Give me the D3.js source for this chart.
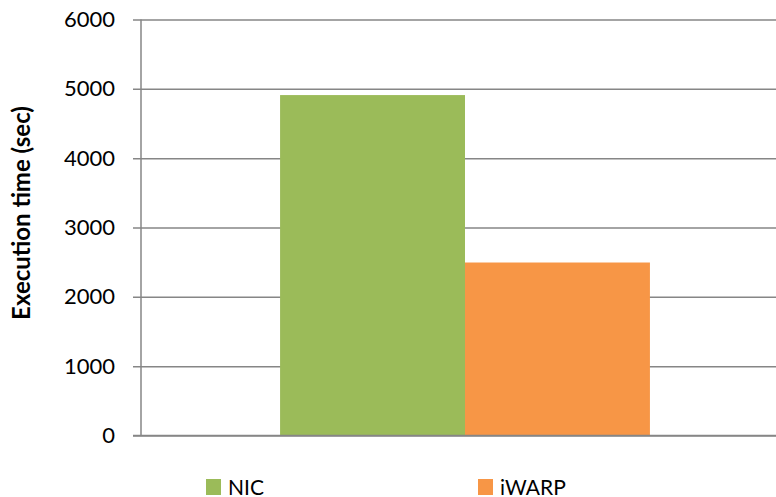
<!DOCTYPE html>
<html>
<head>
    <title>Execution time</title>
    <script src="https://d3js.org/d3.v7.min.js"></script>
    <style>
        body { margin: 0; background: #fff; }
        text { font-family: Lato, "Open Sans", sans-serif; }
    </style>
</head>
<body>
<svg class="chart" width="776" height="497"></svg>
<script>
    // data
    var categories = ["run"];
    var seriesNames = ["NIC", "iWARP"];
    var seriesValues = [4910, 2495];
    var seriesColors = ["#9bbb59", "#f79646"];
    var yTicks = [0, 1000, 2000, 3000, 4000, 5000, 6000];

    var svg = d3.select("svg");
    var plotLeft = 141, plotRight = 789, plotTop = 19.5, plotBottom = 435.5;

    var y = d3.scaleLinear().domain([0, 6000]).range([plotBottom, plotTop]);
    var x0 = d3.scaleBand().domain(categories).range([plotLeft, plotRight])
        .paddingInner(0).paddingOuter(0.376);
    var x1 = d3.scaleBand().domain(seriesNames).range([0, x0.bandwidth()]);

    // gridlines + ticks
    var yAxis = d3.axisLeft(y).tickValues(yTicks).tickFormat(d3.format("d"))
        .tickSize(-(plotRight - plotLeft)).tickSizeOuter(0).tickPadding(26);
    var gy = svg.append("g").attr("transform", "translate(" + plotLeft + ",0)").call(yAxis);
    gy.select(".domain").remove();
    gy.selectAll(".tick line").attr("stroke", "#868686").attr("stroke-width", 1.5).attr("x1", -8);
    gy.selectAll(".tick text").attr("font-size", 22).attr("fill", "#000")
        .style("font-family", "Lato, sans-serif");

    // bars
    var g = svg.append("g");
    g.selectAll("rect")
        .data(seriesValues)
        .enter()
        .append("rect")
        .attr("x", (d, i) => x0(categories[0]) + x1(seriesNames[i]))
        .attr("y", d => y(d))
        .attr("width", x1.bandwidth())
        .attr("height", d => y(0) - y(d))
        .attr("fill", (d, i) => seriesColors[i]);

    // axis lines on top
    svg.append("line")
        .attr("x1", plotLeft).attr("x2", plotLeft)
        .attr("y1", plotTop).attr("y2", plotBottom)
        .attr("stroke", "#868686").attr("stroke-width", 1.5);
    svg.append("line")
        .attr("x1", plotLeft - 8).attr("x2", plotRight)
        .attr("y1", plotBottom).attr("y2", plotBottom)
        .attr("stroke", "#868686").attr("stroke-width", 1.5);

    // y title
    svg.append("text")
        .attr("transform", "translate(30,213) rotate(-90)")
        .attr("text-anchor", "middle")
        .attr("font-size", 24)
        .attr("font-weight", "bold")
        .text("Execution time (sec)");

    // legend
    var legendX = [206, 478];
    var lg = svg.selectAll(".legend")
        .data(seriesNames)
        .enter()
        .append("g")
        .attr("class", "legend")
        .attr("transform", (d, i) => "translate(" + legendX[i] + ",479)");
    lg.append("rect").attr("width", 15).attr("height", 16).attr("fill", (d, i) => seriesColors[i]);
    lg.append("text").attr("x", 22).attr("y", 16).attr("font-size", 21).text(d => d);
</script>
</body>
</html>
